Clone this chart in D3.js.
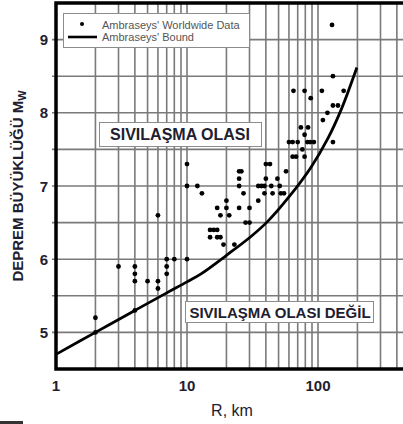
<!DOCTYPE html>
<html>
<head>
<meta charset="utf-8">
<script src="https://cdn.jsdelivr.net/npm/d3@7"></script>
<style>
  html, body { margin: 0; padding: 0; background: #fff; }
  svg { display: block; font-family: "Liberation Sans", Arial, sans-serif; }
</style>
</head>
<body>
<div id="chart"></div>
<script>
// Ambraseys' worldwide data : epicentral distance R (km) and magnitude Mw
const dataR = [2, 2, 3, 4, 4, 4, 4, 5, 6, 6, 6, 7, 7, 7, 8, 10, 10, 10, 12, 13,
  17, 20, 20, 18, 21, 15, 16, 17, 15, 17, 18, 19, 23,
  25, 26, 25, 25, 27, 25, 30, 28, 30, 35,
  35, 37, 39, 44, 51, 40, 43, 40, 49, 39, 45, 52, 55, 57,
  60, 64, 70, 83, 87, 93, 130, 76, 64, 68, 79, 79, 74, 84,
  109, 118, 130, 142, 88, 65, 79, 107, 157, 130, 128];
const dataM = [5.2, 5.0, 5.9, 5.9, 5.8, 5.7, 5.3, 5.7, 5.7, 5.6, 6.6, 6.0, 5.9, 5.8, 6.0, 6.0, 7.0, 7.3, 7.0, 6.9,
  6.7, 6.8, 6.7, 6.6, 6.6, 6.4, 6.4, 6.4, 6.3, 6.3, 6.3, 6.2, 6.2,
  7.2, 7.2, 7.1, 7.0, 6.9, 6.7, 6.7, 6.5, 6.5, 6.8,
  7.0, 7.0, 7.0, 7.0, 7.0, 7.3, 7.3, 7.1, 7.1, 6.9, 6.9, 6.9, 6.9, 7.2,
  7.6, 7.6, 7.6, 7.6, 7.6, 7.6, 7.6, 7.5, 7.4, 7.4, 7.4, 7.7, 7.8, 7.8,
  7.9, 8.0, 8.1, 8.1, 8.2, 8.3, 8.3, 8.3, 8.3, 8.5, 9.2];

// Ambraseys' bound
const boundR = [1, 2, 4, 7, 10, 12.8, 19.9, 30.8, 41.5, 60, 88, 119, 150, 198];
const boundM = [4.70, 5.00, 5.30, 5.54, 5.69, 5.80, 6.05, 6.31, 6.52, 6.85, 7.25, 7.65, 8.04, 8.62];

// Axis ticks
const xTickLabels = [1, 10, 100];
const yTickLabels = [5, 6, 7, 8, 9];

const points = dataR.map((r, i) => ({ r: r, m: dataM[i] }));
const bound = boundR.map((r, i) => ({ r: r, m: boundM[i] }));

const drawChart = () => {

  // ------ Create the drawing area ------- //
  const width = 403;
  const height = 424;
  const margin = {top: 3, left: 56, bottom: 54};
  const svg = d3.select("#chart")
    .append("svg")
    .attr("width", width)
    .attr("height", height);

  // ------ Scales ------- //
  const xScale = d3.scaleLog()
    .domain([1, 1000])
    .range([margin.left, margin.left + 393]);
  const yScale = d3.scaleLinear()
    .domain([4.5, 9.5])
    .range([height - margin.bottom - 1, margin.top]);

  const x0 = xScale(1), x1 = xScale(1000);
  const y0 = yScale(4.5), y1 = yScale(9.5);
  const gridColor = "#7a7a7a";
  const textColor = "#1e2030";

  // ------ Grid ------- //
  const xGrid = [];
  [1, 10, 100].forEach(dec => d3.range(2, 10).forEach(k => xGrid.push(dec * k)));
  xGrid.push(10, 100);
  svg.append("g")
    .selectAll("line")
    .data(xGrid)
    .join("line")
      .attr("x1", d => xScale(d))
      .attr("x2", d => xScale(d))
      .attr("y1", y1)
      .attr("y2", y0)
      .attr("stroke", gridColor)
      .attr("stroke-width", 1.6);

  const yGrid = d3.range(5, 9.01, 0.5);
  svg.append("g")
    .selectAll("line")
    .data(yGrid)
    .join("line")
      .attr("x1", x0 - 4)
      .attr("x2", x1)
      .attr("y1", d => yScale(d))
      .attr("y2", d => yScale(d))
      .attr("stroke", gridColor)
      .attr("stroke-width", 1.6);

  // ------ Frame ------- //
  svg.append("rect")
    .attr("x", x0)
    .attr("y", y1)
    .attr("width", x1 - x0)
    .attr("height", y0 - y1)
    .attr("fill", "none")
    .attr("stroke", "#000")
    .attr("stroke-width", 3.5);

  // ------ Tick labels ------- //
  svg.append("g")
    .selectAll("text")
    .data(yTickLabels)
    .join("text")
      .text(d => d)
      .attr("x", x0 - 8)
      .attr("y", d => yScale(d))
      .attr("text-anchor", "end")
      .attr("dominant-baseline", "central")
      .attr("font-size", 15)
      .attr("font-weight", "bold")
      .attr("fill", textColor);

  svg.append("g")
    .selectAll("text")
    .data(xTickLabels)
    .join("text")
      .text(d => d)
      .attr("x", d => xScale(d))
      .attr("y", y0 + 22)
      .attr("text-anchor", "middle")
      .attr("font-size", 15)
      .attr("font-weight", "bold")
      .attr("fill", textColor);

  // ------ Axis titles ------- //
  svg.append("text")
    .text("R, km")
    .attr("x", 232)
    .attr("y", 416)
    .attr("text-anchor", "middle")
    .attr("font-size", 16)
    .attr("fill", textColor);

  const yTitle = svg.append("text")
    .attr("transform", "translate(23, 186) rotate(-90)")
    .attr("text-anchor", "middle")
    .attr("font-size", 15)
    .attr("font-weight", "bold")
    .attr("fill", textColor);
  yTitle.append("tspan").text("DEPREM BÜYÜKLÜĞÜ M");
  yTitle.append("tspan").text("W").attr("font-size", 11).attr("dy", 3);

  // ------ Ambraseys' bound ------- //
  const lineGenerator = d3.line()
    .x(d => xScale(d.r))
    .y(d => yScale(d.m))
    .curve(d3.curveCatmullRom.alpha(0.5));
  svg.append("path")
    .attr("d", lineGenerator(bound))
    .attr("fill", "none")
    .attr("stroke", "#000")
    .attr("stroke-width", 2.8);

  // ------ Worldwide data ------- //
  svg.append("g")
    .selectAll("circle")
    .data(points)
    .join("circle")
      .attr("cx", d => xScale(d.r))
      .attr("cy", d => yScale(d.m))
      .attr("r", 2.4)
      .attr("fill", "#000");

  // ------ Legend ------- //
  svg.append("rect")
    .attr("x", 63.5)
    .attr("y", 13.5)
    .attr("width", 186)
    .attr("height", 34)
    .attr("fill", "#fff")
    .attr("stroke", "#8c8c8c");
  svg.append("circle")
    .attr("cx", 82)
    .attr("cy", 24)
    .attr("r", 2)
    .attr("fill", "#000");
  svg.append("line")
    .attr("x1", 68)
    .attr("x2", 97)
    .attr("y1", 37)
    .attr("y2", 37)
    .attr("stroke", "#000")
    .attr("stroke-width", 2.6);
  svg.append("text")
    .text("Ambraseys' Worldwide Data")
    .attr("x", 102)
    .attr("y", 28.5)
    .attr("font-size", 11)
    .attr("fill", "#555");
  svg.append("text")
    .text("Ambraseys' Bound")
    .attr("x", 102)
    .attr("y", 41)
    .attr("font-size", 11)
    .attr("fill", "#555");

  // ------ Zone labels ------- //
  svg.append("rect")
    .attr("x", 99.5)
    .attr("y", 122.5)
    .attr("width", 162)
    .attr("height", 24)
    .attr("fill", "#fff")
    .attr("stroke", "#8c8c8c");
  svg.append("text")
    .text("SIVILAŞMA OLASI")
    .attr("x", 180)
    .attr("y", 140)
    .attr("text-anchor", "middle")
    .attr("font-size", 16)
    .attr("font-weight", "bold")
    .attr("fill", textColor);

  svg.append("rect")
    .attr("x", 185.5)
    .attr("y", 301.5)
    .attr("width", 188)
    .attr("height", 21)
    .attr("fill", "#fff")
    .attr("stroke", "#8c8c8c");
  svg.append("text")
    .text("SIVILAŞMA OLASI DEĞİL")
    .attr("x", 280)
    .attr("y", 317.5)
    .attr("text-anchor", "middle")
    .attr("font-size", 15)
    .attr("font-weight", "bold")
    .attr("fill", textColor);

  // small mark at the lower left corner of the scan
  svg.append("line")
    .attr("x1", 0)
    .attr("x2", 23)
    .attr("y1", 422.5)
    .attr("y2", 422.5)
    .attr("stroke", "#333")
    .attr("stroke-width", 3);
};

drawChart();
</script>
</body>
</html>
